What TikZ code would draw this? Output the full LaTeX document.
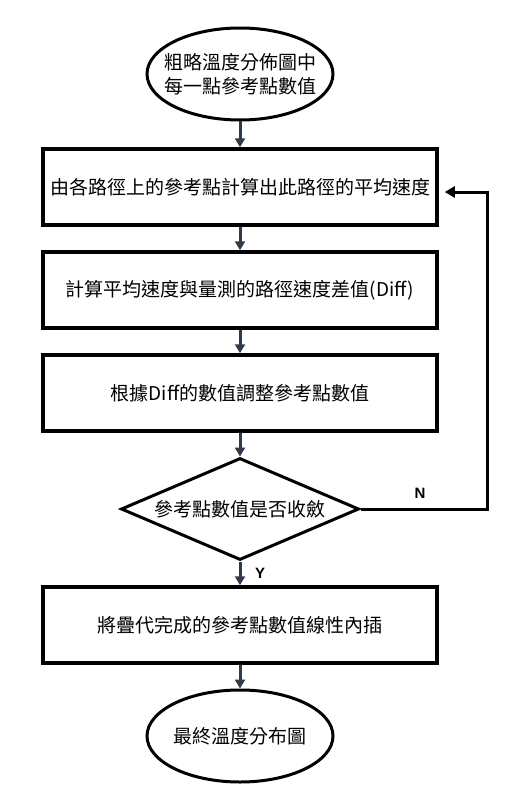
\documentclass[tikz,border=0pt]{standalone}
\usepackage{fontspec}
\newfontfamily\cjk{Noto Sans CJK TC}
\newfontfamily\latinb{Liberation Sans}
\usepackage{tikz}
\usetikzlibrary{arrows.meta}
\usetikzlibrary{shapes.geometric,positioning}
\definecolor{arrowslate}{HTML}{2F3A4B}

\begin{document}
\begin{tikzpicture}[x=1pt,y=-1pt,font=\cjk\fontsize{19}{24}\selectfont]
  \tikzset{terminal/.style = {shape=ellipse,draw,line width=3pt,minimum width=186pt,minimum height=92pt,inner sep=0pt}}
  \tikzset{process/.style = {shape=rectangle,draw,line width=3.5pt,minimum width=394pt,minimum height=76pt,inner sep=0pt}}
  \tikzset{decision/.style = {shape=diamond,draw,line width=3pt,minimum width=238pt,minimum height=102pt,inner sep=0pt}}
  \tikzset{flow/.style = {-{Triangle[length=9pt,width=10pt]},line width=3pt,draw=arrowslate,fill=arrowslate}}
  \tikzset{back/.style = {-{Triangle[length=10pt,width=11pt]},line width=3pt,draw=black}}
  \tikzset{yesno/.style = {font=\latinb\bfseries\fontsize{15}{18}\selectfont}}
  \useasboundingbox (0,0) rectangle (514,797);

	\node[terminal,label={[align=center]center:粗略溫度分佈圖中\\每一點參考點數值}] (start) at (240,74) {};
	\node[process] (path) at (240,187) {由各路徑上的參考點計算出此路徑的平均速度};
	\node[process] (diff) at (240,290) {計算平均速度與量測的路徑速度差值(Diff)};
	\node[process] (adjust) at (240,393) {根據Diff的數值調整參考點數值};
	\node[decision,label=center:參考點數值是否收斂] (conv) at (240,509) {};
	\node[process] (interp) at (240,625) {將疊代完成的參考點數值線性內插};
	\node[terminal,label=center:最終溫度分布圖] (final) at (240,736) {};

	\node[yesno] (no) at (420,493) {N};
	\node[yesno] (yes) at (260,573) {Y};
	\coordinate (turn) at (487,192);

    \foreach \from/\to in {start/path, path/diff, diff/adjust, adjust/conv, conv/interp, interp/final}
    \path[flow](\from) edge (\to);

    \draw[back] (conv.east) -| (turn) -- ([xshift=6pt,yshift=-5pt]path.east);

\end{tikzpicture}
\end{document}
